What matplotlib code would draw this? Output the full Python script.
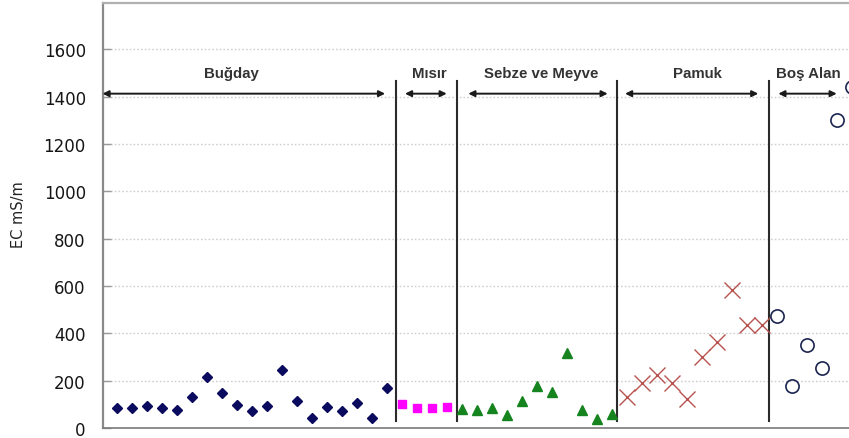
import numpy as np
import matplotlib
matplotlib.use("Agg")
import matplotlib.pyplot as plt

# EC values (mS/m) per land-use group
bugday = [86, 86, 92, 86, 77, 131, 217, 147, 98, 71, 92, 246, 113, 43, 88, 72, 105, 43, 168]
misir = [100, 85, 85, 90]
sebze = [81, 75, 86, 57, 112, 176, 151, 318, 77, 37, 58]
pamuk = [133, 192, 224, 192, 123, 301, 362, 583, 435, 437]
bos_alan = [472, 176, 349, 255, 1302, 1440]

group_names = ["Buğday", "Mısır", "Sebze ve Meyve", "Pamuk", "Boş Alan"]
y_ticks = [0, 200, 400, 600, 800, 1000, 1200, 1400, 1600]

W, H = 849, 439
fig = plt.figure(figsize=(W / 100, H / 100), dpi=100)
ax = fig.add_axes([102.5 / W, (H - 429) / H, 1 - 102.5 / W, (429 - 3.5) / H])

groups = [bugday, misir, sebze, pamuk, bos_alan]
styles = [
    dict(marker="D", color="#0a0a5e", ms=5.0, ls="none"),
    dict(marker="s", color="#ff00ff", ms=6.0, ls="none"),
    dict(marker="^", color="#15841f", ms=6.8, ls="none"),
    dict(marker="x", color="#b8524f", ms=11.5, mew=1.0, ls="none"),
    dict(marker="o", mfc="none", mec="#1c2550", ms=9.5, mew=1.2, ls="none"),
]

start = 0
spans = []
for vals, st in zip(groups, styles):
    x = np.arange(start, start + len(vals))
    ax.plot(x, vals, clip_on=False, zorder=3, **st)
    spans.append((start, start + len(vals) - 1))
    start += len(vals)

ax.set_xlim(-0.97, 48.8)
ax.set_ylim(0, 1797)

# separators between groups
separators = [(spans[i][1] + spans[i + 1][0]) / 2 + d for i, d in
              zip(range(4), [0.08, 0.19, -0.2, -0.03])]
for sx in separators:
    ax.plot([sx, sx], [30, 1465], color="#2b2b2b", lw=1.5, zorder=2)

# double-headed arrows and group names
arrow_y = 1412
arrow_spans = [(-0.97, 17.87), (19.2, 21.98), (23.42, 32.71), (33.87, 42.75), (44.09, 47.98)]
label_x = [7.65, 20.8, 28.3, 38.7, 46.07]
for (a, b), lx, name in zip(arrow_spans, label_x, group_names):
    ax.annotate("", xy=(b, arrow_y), xytext=(a, arrow_y),
                arrowprops=dict(arrowstyle="<|-|>", color="#1a1a1a", lw=1.4,
                                mutation_scale=9, shrinkA=0, shrinkB=0))
    ax.text(lx, 1500, name, ha="center", va="center", fontsize=10.8,
            fontweight="bold", family="Liberation Sans", color="#333333")

# axes styling
ax.set_yticks(y_ticks)
ax.set_yticklabels([str(v) for v in y_ticks], fontsize=12, color="#151515",
                   family="DejaVu Sans")
ax.set_xticks([])
ax.tick_params(axis="y", direction="in", length=6, width=1, color="#999999", pad=12)
for yv in y_ticks[1:]:
    ax.axhline(yv, color="#cfcfcf", lw=1, ls=(0, (1.2, 1.5)), zorder=1)

ax.spines["right"].set_visible(False)
ax.spines["left"].set_color("#8a8a8a")
ax.spines["left"].set_linewidth(1.6)
ax.spines["bottom"].set_color("#7a7a7a")
ax.spines["bottom"].set_linewidth(1.2)
ax.spines["top"].set_color("#b0b0b0")
ax.spines["top"].set_linewidth(1.6)

fig.text(18 / W, 1 - 215 / H, "EC mS/m", rotation=90, ha="center", va="center",
         fontsize=10.5, color="#222222", family="DejaVu Sans")

fig.savefig("out.png", dpi=100)
